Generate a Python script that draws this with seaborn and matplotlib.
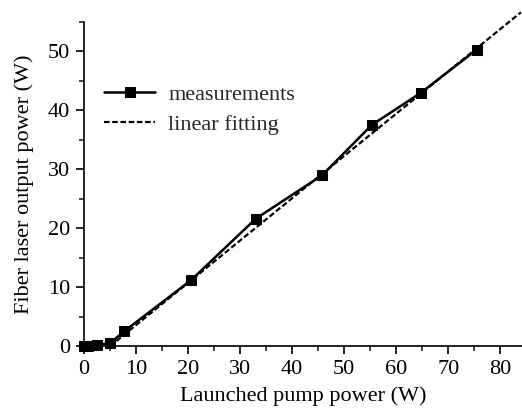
import numpy as np
import pandas as pd
import matplotlib
matplotlib.use('Agg')
import matplotlib.pyplot as plt
import seaborn as sns
from matplotlib.ticker import MultipleLocator

# --- Data ---
pump_power = [0.0, 0.8, 2.5, 5.0, 7.7, 20.6, 33.0, 45.8, 55.3, 64.8, 75.5]
output_power = [0.0, 0.1, 0.2, 0.5, 2.5, 11.2, 21.6, 29.0, 37.5, 43.0, 50.3]
fit_slope = 0.717
fit_intercept = -3.6
fit_range = [5.0, 84.0]

sns.set_theme(style='ticks')
plt.rcParams['font.family'] = ['Liberation Serif', 'DejaVu Serif']

df = pd.DataFrame({'pump': pump_power, 'out': output_power})
fit_x = np.array(fit_range)
fit_df = pd.DataFrame({'pump': fit_x, 'out': fit_slope * fit_x + fit_intercept})

fig = plt.figure(figsize=(5.22, 4.13), dpi=100)
ax = fig.add_axes([0.161, 0.162, 0.839, 0.785])

sns.lineplot(data=df, x='pump', y='out', ax=ax, color='black', linewidth=1.8,
             marker='s', markersize=7, markeredgecolor='black',
             label='measurements')
sns.lineplot(data=fit_df, x='pump', y='out', ax=ax, color='black', linewidth=1.6,
             linestyle=(0, (2.5, 1.2)), label='linear fitting')
for ln in ax.lines:
    ln.set_clip_on(False)

ax.set_xlim(0, 84.2)
ax.set_ylim(0, 55)
ax.xaxis.set_major_locator(MultipleLocator(10))
ax.xaxis.set_minor_locator(MultipleLocator(5))
ax.yaxis.set_major_locator(MultipleLocator(10))
ax.yaxis.set_minor_locator(MultipleLocator(5))
ax.tick_params(which='major', length=6, width=1.2, direction='out', labelsize=16, colors='black', pad=4)
ax.tick_params(which='minor', length=3.5, width=1.2, direction='out')

sns.despine(ax=ax)
for s in ['left', 'bottom']:
    ax.spines[s].set_linewidth(1.2)
    ax.spines[s].set_color('black')

ax.set_xlabel('Launched pump power (W)', fontsize=16, color='black', labelpad=5)
ax.set_ylabel('Fiber laser output power (W)', fontsize=16, color='black', labelpad=10)

ax.legend(loc='upper left', bbox_to_anchor=(0.0, 0.87), frameon=False,
          fontsize=16, handlelength=2.3, handletextpad=0.6, labelspacing=0.45)

fig.savefig('out.png', dpi=100)
